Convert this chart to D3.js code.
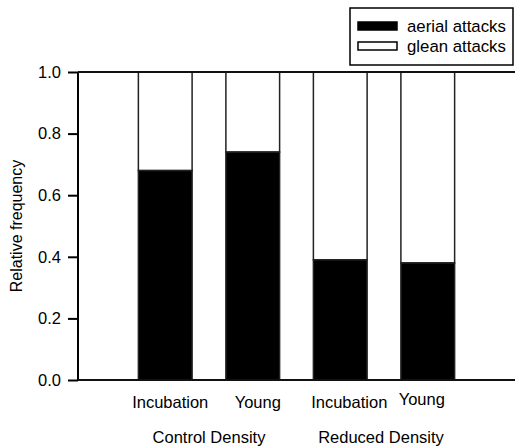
<!DOCTYPE html>
<html>
<head>
<meta charset="utf-8">
<script src="https://cdn.jsdelivr.net/npm/d3@7"></script>
<style>
  body { margin: 0; background: #fff; }
  svg text { font-family: "Liberation Sans", Arial, sans-serif; fill: #000; }
</style>
</head>
<body>
<svg id="chart" width="515" height="447"></svg>
<script>
// data
const categories = ["Incubation", "Young", "Incubation", "Young"];
const groups = ["Control Density", "Reduced Density"];
const aerial = [0.68, 0.74, 0.39, 0.38];
const yTicks = [0, 0.2, 0.4, 0.6, 0.8, 1.0];
const legendLabels = ["aerial attacks", "glean attacks"];

const svg = d3.select("#chart");
const mLeft = 78, mRight = 515, mTop = 72, mBottom = 380;

const x = d3.scaleBand()
  .domain(d3.range(categories.length))
  .range([mLeft, mRight])
  .paddingInner(0.386)
  .paddingOuter(0.69);

const y = d3.scaleLinear().domain([0, 1]).range([mBottom, mTop]);

// bars: glean (white) on top, aerial (black) below
const bars = svg.append("g");
bars.selectAll("rect.glean")
  .data(aerial)
  .enter().append("rect")
  .attr("class", "glean")
  .attr("x", (d, i) => x(i))
  .attr("y", y(1))
  .attr("width", x.bandwidth())
  .attr("height", d => y(d) - y(1))
  .attr("fill", "#fff")
  .attr("stroke", "#222")
  .attr("stroke-width", 1.5);

bars.selectAll("rect.aerial")
  .data(aerial)
  .enter().append("rect")
  .attr("class", "aerial")
  .attr("x", (d, i) => x(i))
  .attr("y", d => y(d))
  .attr("width", x.bandwidth())
  .attr("height", d => y(0) - y(d))
  .attr("fill", "#000")
  .attr("stroke", "#222")
  .attr("stroke-width", 1.5);

// axes
const yAxis = svg.append("g")
  .attr("transform", `translate(${mLeft},0)`)
  .call(d3.axisLeft(y).tickValues(yTicks).tickFormat(d3.format(".1f")).tickSize(10).tickPadding(7));
yAxis.select(".domain").remove();
yAxis.selectAll(".tick line").attr("stroke", "#000").attr("stroke-width", 2);
yAxis.selectAll(".tick text").style("font-size", "16.5px");

svg.append("line")
  .attr("x1", mLeft).attr("x2", mLeft)
  .attr("y1", mTop).attr("y2", mBottom)
  .attr("stroke", "#000").attr("stroke-width", 2);
svg.append("line")
  .attr("x1", mLeft).attr("x2", mRight)
  .attr("y1", y(1)).attr("y2", y(1))
  .attr("stroke", "#111").attr("stroke-width", 2);
svg.append("line")
  .attr("x1", mLeft).attr("x2", mRight)
  .attr("y1", y(0)).attr("y2", y(0))
  .attr("stroke", "#111").attr("stroke-width", 2);

// category labels
const catDx = [5, 5, 9, -6];
const catDy = [408, 408, 408, 405];
svg.selectAll("text.cat")
  .data(categories)
  .enter().append("text")
  .attr("class", "cat")
  .attr("x", (d, i) => x(i) + x.bandwidth() / 2 + catDx[i])
  .attr("y", (d, i) => catDy[i])
  .attr("text-anchor", "middle")
  .style("font-size", "16.5px")
  .text(d => d);

svg.selectAll("text.grp")
  .data(groups)
  .enter().append("text")
  .attr("class", "grp")
  .attr("x", (d, i) => (x(2 * i) + x(2 * i + 1) + x.bandwidth()) / 2 - (i ? 3 : 0))
  .attr("y", 443)
  .attr("text-anchor", "middle")
  .style("font-size", "16.5px")
  .text(d => d);

// y label
svg.append("text")
  .attr("transform", `translate(22,${(mTop + mBottom) / 2}) rotate(-90)`)
  .attr("text-anchor", "middle")
  .style("font-size", "16px")
  .text("Relative frequency");

// legend
const lg = svg.append("g");
lg.append("rect")
  .attr("x", 350).attr("y", 8)
  .attr("width", 163).attr("height", 57)
  .attr("fill", "#fff").attr("stroke", "#000").attr("stroke-width", 1.5);
lg.selectAll("rect.sw")
  .data(legendLabels)
  .enter().append("rect")
  .attr("class", "sw")
  .attr("x", 358)
  .attr("y", (d, i) => 22 + i * 20)
  .attr("width", 39).attr("height", 8)
  .attr("fill", (d, i) => i ? "#fff" : "#000")
  .attr("stroke", "#000").attr("stroke-width", 1.5);
lg.selectAll("text")
  .data(legendLabels)
  .enter().append("text")
  .attr("x", 407)
  .attr("y", (d, i) => 32 + i * 20)
  .style("font-size", "16.8px")
  .text(d => d);
</script>
</body>
</html>
